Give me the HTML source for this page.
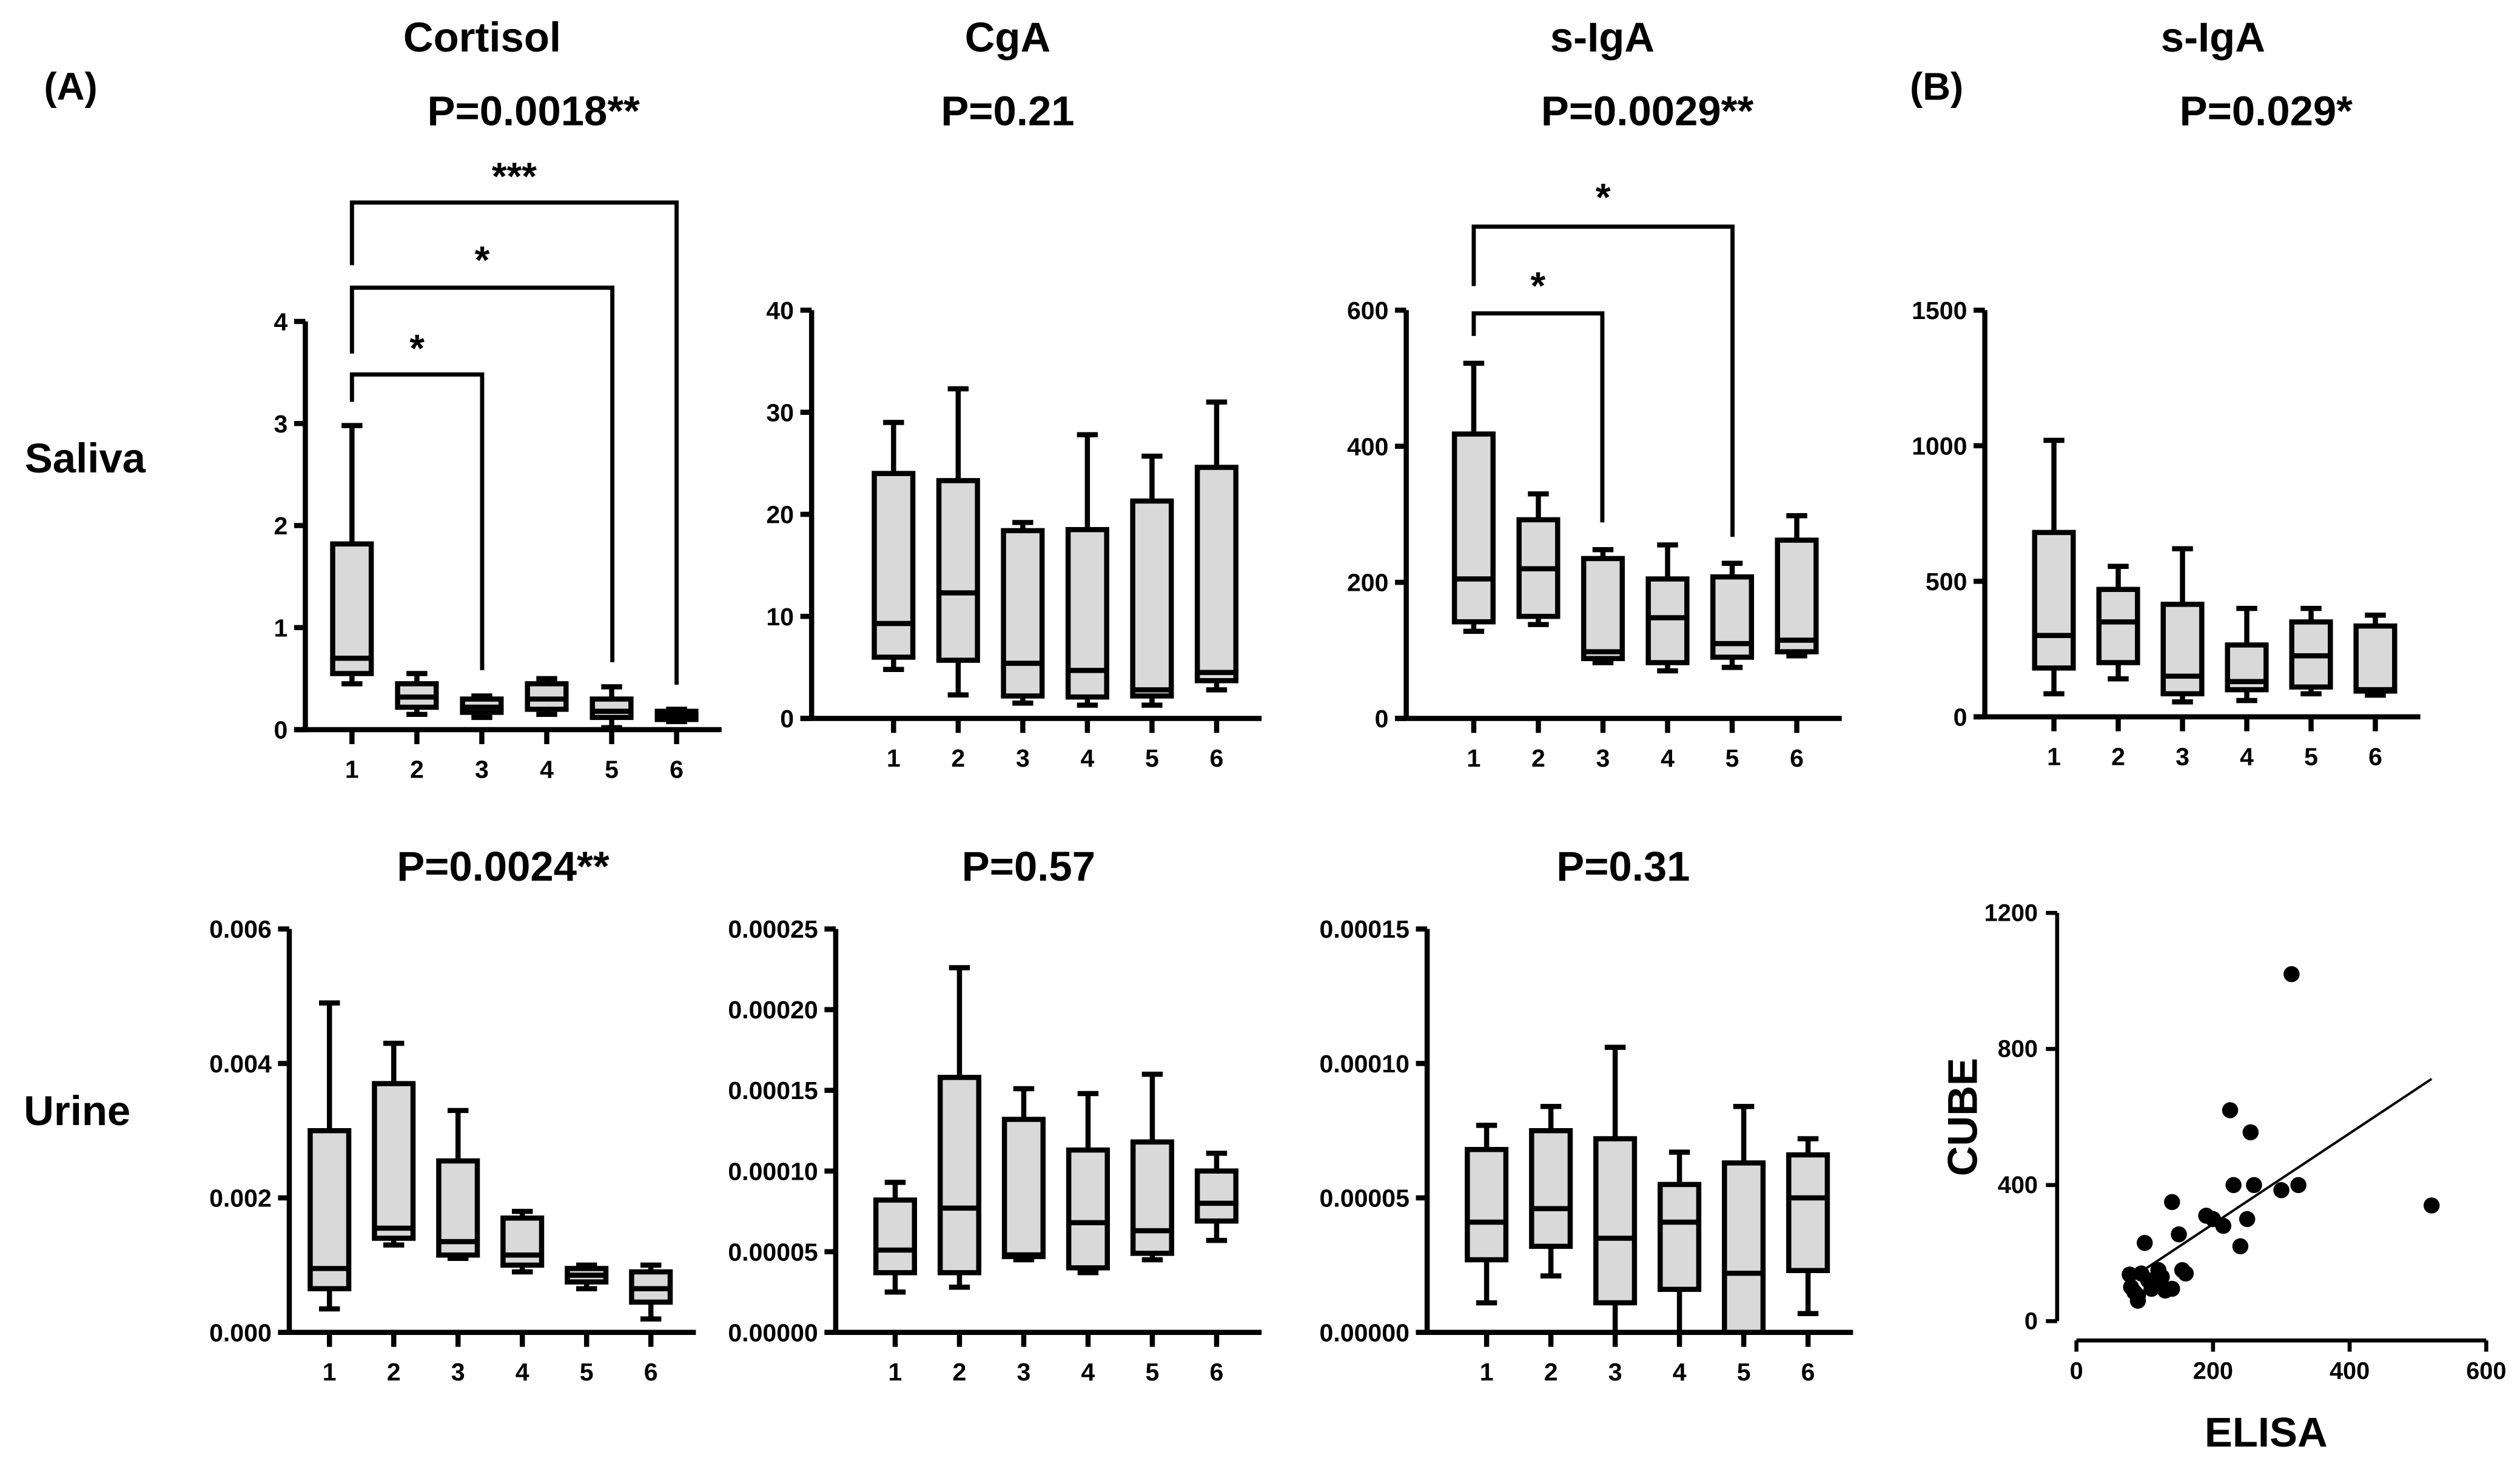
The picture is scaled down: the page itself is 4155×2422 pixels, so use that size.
<!DOCTYPE html>
<html><head><meta charset="utf-8"><style>
html,body{margin:0;padding:0;background:#fff;}
svg{display:block;font-family:"Liberation Sans",Arial,sans-serif;font-weight:bold;}
</style></head><body>
<svg id="fig" width="4155" height="2422" viewBox="0 0 1568 914" xmlns="http://www.w3.org/2000/svg">
<g font-weight="bold" fill="#000">
<text x="44" y="62" font-size="24" text-anchor="middle">(A)</text>
<text x="1205" y="62" font-size="24" text-anchor="middle">(B)</text>
<text x="300" y="32" font-size="26" text-anchor="middle">Cortisol</text>
<text x="332" y="78" font-size="26" text-anchor="middle">P=0.0018**</text>
<text x="627" y="32" font-size="26" text-anchor="middle">CgA</text>
<text x="627" y="78" font-size="26" text-anchor="middle">P=0.21</text>
<text x="997" y="32" font-size="26" text-anchor="middle">s-IgA</text>
<text x="1025" y="78" font-size="26" text-anchor="middle">P=0.0029**</text>
<text x="1377" y="32" font-size="26" text-anchor="middle">s-IgA</text>
<text x="1410" y="78" font-size="26" text-anchor="middle">P=0.029*</text>
<text x="53" y="294" font-size="26" text-anchor="middle">Saliva</text>
<text x="48" y="700" font-size="26" text-anchor="middle">Urine</text>
<text x="313" y="548" font-size="26" text-anchor="middle">P=0.0024**</text>
<text x="640" y="548" font-size="26" text-anchor="middle">P=0.57</text>
<text x="1010" y="548" font-size="26" text-anchor="middle">P=0.31</text>
<text x="0" y="0" font-size="26" text-anchor="middle" transform="translate(1230,695) rotate(-90)">CUBE</text>
<text x="1410" y="900" font-size="26" text-anchor="middle">ELISA</text>
</g>
<g id="plots"></g>
</svg>
<script>
const groups=["1","2","3","4","5","6"];
const cortSaliva=[[0.45,0.55,0.7,1.82,2.98],[0.15,0.22,0.32,0.45,0.55],[0.12,0.17,0.22,0.3,0.33],[0.15,0.2,0.3,0.45,0.5],[0.02,0.12,0.18,0.3,0.42],[0.08,0.1,0.14,0.18,0.2]];
const cgaSaliva=[[4.8,6,9.3,24,29],[2.3,5.7,12.3,23.3,32.3],[1.5,2.2,5.4,18.4,19.2],[1.3,2.1,4.7,18.5,27.8],[1.3,2.2,2.8,21.3,25.7],[2.8,3.7,4.5,24.6,31]];
const igaSaliva=[[128,142,205,418,522],[138,150,220,292,330],[82,88,98,235,248],[70,82,148,205,255],[75,90,110,208,228],[92,98,115,262,298]];
const igaCube=[[85,180,300,680,1020],[140,200,350,470,555],[55,85,150,415,620],[60,100,130,265,400],[85,110,225,350,400],[80,95,100,335,375]];
const cortUrine=[[0.00035,0.00065,0.00095,0.003,0.0049],[0.0013,0.0014,0.00155,0.0037,0.0043],[0.0011,0.00115,0.00135,0.00255,0.0033],[0.0009,0.001,0.00115,0.0017,0.0018],[0.00065,0.00075,0.00085,0.00095,0.001],[0.0002,0.00045,0.00065,0.0009,0.001]];
const cgaUrine=[[2.5e-5,3.7e-5,5.1e-5,8.2e-5,9.3e-5],[2.8e-5,3.7e-5,7.7e-5,15.8e-5,22.6e-5],[4.5e-5,4.7e-5,4.8e-5,13.2e-5,15.1e-5],[3.7e-5,4.0e-5,6.8e-5,11.3e-5,14.8e-5],[4.5e-5,4.9e-5,6.3e-5,11.8e-5,16e-5],[5.7e-5,6.9e-5,8.0e-5,10.0e-5,11.1e-5]];
const igaUrine=[[1.1e-5,2.7e-5,4.1e-5,6.8e-5,7.7e-5],[2.1e-5,3.2e-5,4.6e-5,7.5e-5,8.4e-5],[0,1.1e-5,3.5e-5,7.2e-5,10.6e-5],[0,1.6e-5,4.1e-5,5.5e-5,6.7e-5],[0,0,2.2e-5,6.3e-5,8.4e-5],[0.7e-5,2.3e-5,5.0e-5,6.6e-5,7.2e-5]];
const ticksCortS=["0","1","2","3","4"],ticksCgaS=["0","10","20","30","40"],ticksIgaS=["0","200","400","600"],ticksCube=["0","500","1000","1500"];
const ticksCortU=["0.000","0.002","0.004","0.006"],ticksCgaU=["0.00000","0.00005","0.00010","0.00015","0.00020","0.00025"],ticksIgaU=["0.00000","0.00005","0.00010","0.00015"];
const elisa=[78,85,90,95,100,105,110,115,80,120,125,140,140,150,155,160,190,200,215,225,230,240,250,255,260,300,315,325,520,130,90];
const cube=[137,85,75,140,230,120,95,110,100,150,130,95,350,255,150,140,310,300,280,620,400,220,300,555,400,385,1020,400,340,90,60];
const scatXTicks=["0","200","400","600"],scatYTicks=["0","400","800","1200"];
const NS="http://www.w3.org/2000/svg";
const root=document.getElementById('plots');
const SW=3.2;
function mk(tag,attrs,parent,text){const e=document.createElementNS(NS,tag);for(const k in attrs)e.setAttribute(k,attrs[k]);if(text!==undefined)e.textContent=text;(parent||root).appendChild(e);return e;}
function boxPlot(name,ax,y0,y1,ticks,x1,x6,data){
  const g=mk('g',{});
  
  
  const vmax=parseFloat(ticks[ticks.length-1]);
  const ys=v=>y0-(v/vmax)*(y0-y1);
  const xs=i=>x1+i*(x6-x1)/5;
  const ya=mk('line',{x1:ax,y1:y1,x2:ax,y2:y0,stroke:'#000','stroke-width':SW},g);
  
  
  ticks.forEach(t=>{const y=ys(parseFloat(t));mk('line',{x1:ax-7,y1:y,x2:ax,y2:y,stroke:'#000','stroke-width':SW},g);
    const tl=mk('text',{x:ax-11,y:y+5.5,'font-size':15.5,'text-anchor':'end'},g,t);
    
    });
  const xa=y0;
  const xl=mk('line',{x1:ax-7,y1:xa,x2:xs(5)+28,y2:xa,stroke:'#000','stroke-width':SW},g);
  
  
  groups.forEach((c,i)=>{const x=xs(i);mk('line',{x1:x,y1:xa,x2:x,y2:xa+9,stroke:'#000','stroke-width':SW},g);
    const tl=mk('text',{x:x,y:xa+30,'font-size':15.5,'text-anchor':'middle'},g,c);
    
    
    const d=data[i],w=12,cw=6.5;
    const bg=mk('g',{stroke:'#000','stroke-width':SW,fill:'#d9d9d9'},g);
    
    
    mk('line',{x1:x,y1:ys(d[0]),x2:x,y2:ys(d[1])},bg);
    mk('line',{x1:x,y1:ys(d[3]),x2:x,y2:ys(d[4])},bg);
    mk('line',{x1:x-cw,y1:ys(d[0]),x2:x+cw,y2:ys(d[0])},bg);
    mk('line',{x1:x-cw,y1:ys(d[4]),x2:x+cw,y2:ys(d[4])},bg);
    mk('rect',{x:x-w,y:ys(d[3]),width:2*w,height:Math.max(0.5,ys(d[1])-ys(d[3]))},bg);
    mk('line',{x1:x-w,y1:ys(d[2]),x2:x+w,y2:ys(d[2])},bg);
  });
  return {xs,ys};
}
boxPlot('cortisol-saliva-chart',190,454,200,ticksCortS,219,421,cortSaliva);
boxPlot('cga-saliva-chart',505,447,193,ticksCgaS,556,757,cgaSaliva);
boxPlot('sIgA-saliva-chart',875,447,193,ticksIgaS,917,1118,igaSaliva);
boxPlot('sIgA-cube-chart',1235,446,193,ticksCube,1278,1478,igaCube);
boxPlot('cortisol-urine-chart',180,829,578,ticksCortU,205,405,cortUrine);
boxPlot('cga-urine-chart',520,829,578,ticksCgaU,557,757,cgaUrine);
boxPlot('sIgA-urine-chart',888,829,578,ticksIgaU,925,1125,igaUrine);
function bracket(name,xa,xb,y,yl,yr,star,sy){
  const b=mk('path',{d:`M${xa},${yl} V${y} H${xb} V${yr}`,fill:'none',stroke:'#000','stroke-width':2.6});
  
  
  const t=mk('text',{x:(xa+xb)/2,y:sy,'font-size':24,'text-anchor':'middle'},root,star);
  
  
}
bracket('bracket-1-6',219,421,126,165,426,'***',118);
bracket('bracket-1-5',219,381,179,220,412,'*',170);
bracket('bracket-1-3',219,300,233,250,417,'*',225);
bracket('iga-bracket-1-5',917,1078,141,178,334,'*',131);
bracket('iga-bracket-1-3',917,997,195,209,325,'*',186);
// scatter
const sx=v=>1292+v*(1547-1292)/600, sy=v=>822-v*(822-568)/1200;
const sg=mk('g',{});


mk('line',{x1:1280,y1:568,x2:1280,y2:822,stroke:'#000','stroke-width':2.5},sg);
mk('line',{x1:1292,y1:834,x2:1547,y2:834,stroke:'#000','stroke-width':2.5},sg);
scatYTicks.forEach(t=>{const y=sy(+t);mk('line',{x1:1273,y1:y,x2:1280,y2:y,stroke:'#000','stroke-width':2.5},sg);
  const tl=mk('text',{x:1268,y:y+5,'font-size':15,'text-anchor':'end'},sg,t);
  
  });
scatXTicks.forEach(t=>{const x=sx(+t);mk('line',{x1:x,y1:834,x2:x,y2:841,stroke:'#000','stroke-width':2.5},sg);
  const tl=mk('text',{x:x,y:858,'font-size':15,'text-anchor':'middle'},sg,t);
  
  });
const n=elisa.length;let mx=0,my=0;elisa.forEach((v,i)=>{mx+=v;my+=cube[i];});mx/=n;my/=n;
let sxy=0,sxx=0;elisa.forEach((v,i)=>{sxy+=(v-mx)*(cube[i]-my);sxx+=(v-mx)*(v-mx);});
const slope=sxy/sxx,icpt=my-slope*mx;
const xmin=Math.min(...elisa),xmax=Math.max(...elisa);
const rl=mk('line',{x1:sx(xmin),y1:sy(icpt+slope*xmin),x2:sx(xmax),y2:sy(icpt+slope*xmax),stroke:'#000','stroke-width':1.5},sg);


elisa.forEach((v,i)=>{const c=mk('circle',{cx:sx(v),cy:sy(cube[i]),r:5,fill:'#000'},sg);
  
  });
</script>
</body></html>
